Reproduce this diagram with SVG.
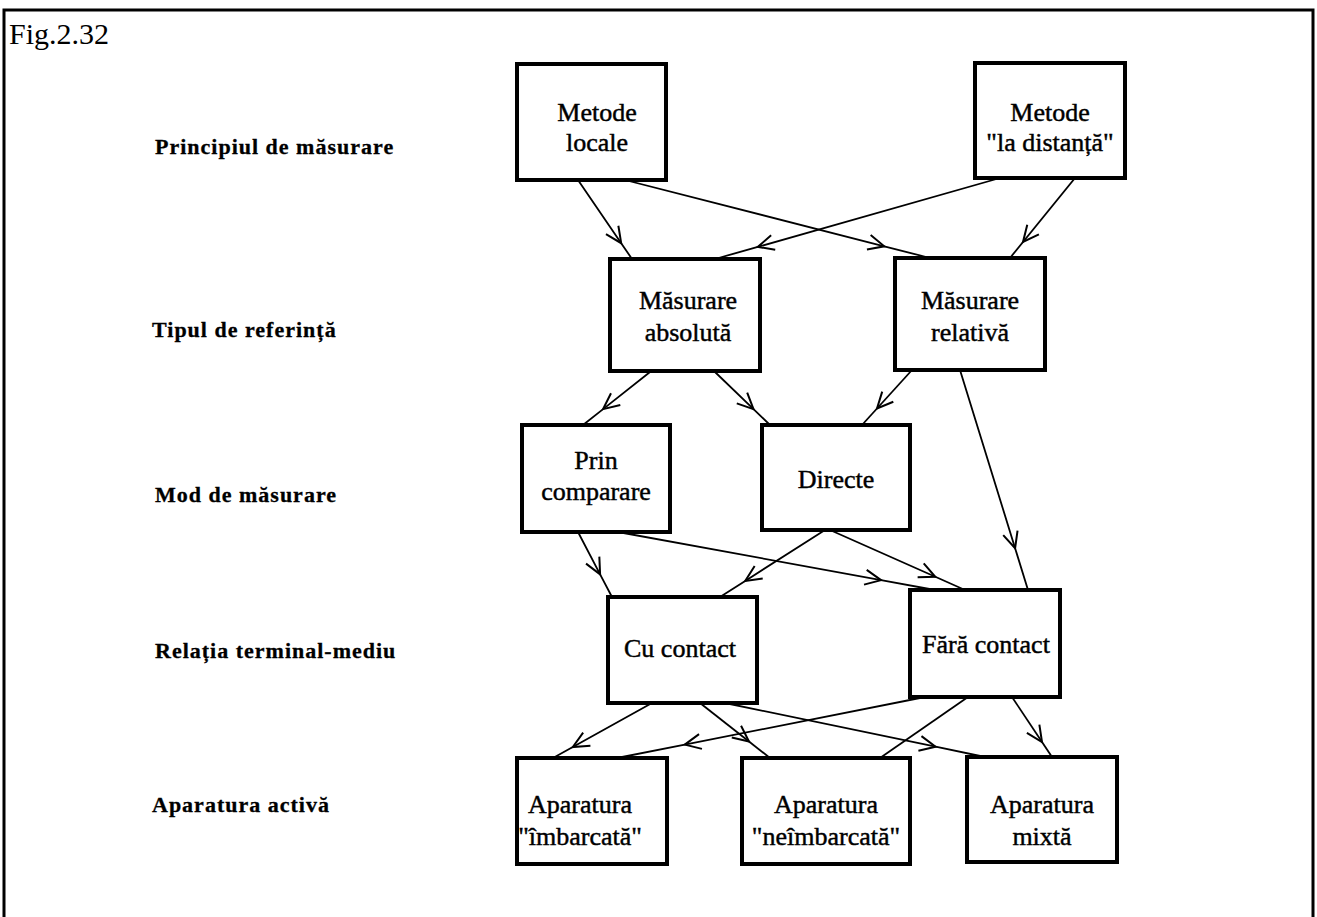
<svg xmlns="http://www.w3.org/2000/svg" width="1317" height="917" viewBox="0 0 1317 917">
  <style>
    .frame { fill: none; stroke: #000; stroke-width: 3; }
    .box { fill: #fff; stroke: #000; stroke-width: 4; }
    .node-text { font-family: "Liberation Serif", "Times New Roman", serif; font-size: 26px; fill: #000; stroke: #000; stroke-width: 0.45; text-anchor: middle; }
    .level { font-family: "Liberation Serif", "Times New Roman", serif; font-size: 22px; font-weight: bold; letter-spacing: 1px; fill: #000; stroke: #000; stroke-width: 0.3; }
    .fig { font-family: "Liberation Serif", "Times New Roman", serif; font-size: 30px; fill: #000; }
    .conn { fill: none; stroke: #000; stroke-width: 1.8; marker-mid: url(#arrow); }
    .plain { fill: none; stroke: #000; stroke-width: 1.8; }
  </style>
  <defs>
    <marker id="arrow" viewBox="-18 -10 22 20" markerWidth="22" markerHeight="20" refX="0" refY="0" orient="auto" markerUnits="userSpaceOnUse">
      <path d="M -16,-7.5 L 0,0 L -16,7.5" fill="none" stroke="#000" stroke-width="2"/>
    </marker>
  </defs>

  <rect x="0" y="0" width="1317" height="917" fill="#fff"/>

  <!-- page frame (open at the bottom) -->
  <path class="frame" d="M 4,917 V 10 H 1313 V 917"/>
  <text class="fig" x="9" y="44">Fig.2.32</text>

  <!-- level labels -->
  <g id="levels">
    <text class="level" x="155" y="154">Principiul de măsurare</text>
    <text class="level" x="152" y="337">Tipul de referință</text>
    <text class="level" x="155" y="502">Mod de măsurare</text>
    <text class="level" x="155" y="658">Relația terminal-mediu</text>
    <text class="level" x="152" y="812">Aparatura activă</text>
  </g>

  <!-- connectors: each arrowhead sits at the middle vertex -->
  <g id="connectors">
    <path class="conn" d="M 578,180 L 621.2,243.2 L 632,259"/>
    <path class="conn" d="M 625,180 L 884.3,246.3 L 930,258"/>
    <path class="conn" d="M 1000,178 L 757.8,246.9 L 715,259"/>
    <path class="conn" d="M 1075,178 L 1023,242 L 1010,258"/>
    <path class="conn" d="M 650,372 L 603.1,409.1 L 583,425"/>
    <path class="conn" d="M 715,372 L 753.5,409.1 L 770,425"/>
    <path class="conn" d="M 912,370 L 877,408.5 L 862,425"/>
    <path class="conn" d="M 960,370 L 1015.1,548.2 L 1028,590"/>
    <path class="conn" d="M 578,532 L 600.1,574.3 L 612,597"/>
    <path class="conn" d="M 618,532 L 881.1,580.1 L 935,590"/>
    <path class="conn" d="M 825,530 L 745.2,580.9 L 720,597"/>
    <path class="conn" d="M 830,530 L 935.3,576.8 L 965,590"/>
    <path class="conn" d="M 652,703 L 572.8,747 L 553,758"/>
    <path class="conn" d="M 700,703 L 749,741.5 L 770,758"/>
    <path class="conn" d="M 725,703 L 935.6,746.7 L 985,757"/>
    <path class="conn" d="M 925,697 L 684.8,744.6 L 617,758"/>
    <path class="plain" d="M 968,697 L 880,758"/>
    <path class="conn" d="M 1012,697 L 1042,742 L 1052,757"/>
  </g>

  <!-- level 1 -->
  <g id="metode-locale">
    <rect class="box" x="517" y="64" width="149" height="116"/>
    <text class="node-text" x="597" y="121">Metode</text>
    <text class="node-text" x="597" y="151">locale</text>
  </g>
  <g id="metode-la-distanta">
    <rect class="box" x="975" y="63" width="150" height="115"/>
    <text class="node-text" x="1050" y="121">Metode</text>
    <text class="node-text" x="1050" y="151">"la distanță"</text>
  </g>

  <!-- level 2 -->
  <g id="masurare-absoluta">
    <rect class="box" x="610" y="259" width="150" height="112"/>
    <text class="node-text" x="688" y="309">Măsurare</text>
    <text class="node-text" x="688" y="341">absolută</text>
  </g>
  <g id="masurare-relativa">
    <rect class="box" x="895" y="258" width="150" height="112"/>
    <text class="node-text" x="970" y="309">Măsurare</text>
    <text class="node-text" x="970" y="341">relativă</text>
  </g>

  <!-- level 3 -->
  <g id="prin-comparare">
    <rect class="box" x="522" y="425" width="148" height="107"/>
    <text class="node-text" x="596" y="469">Prin</text>
    <text class="node-text" x="596" y="500">comparare</text>
  </g>
  <g id="directe">
    <rect class="box" x="762" y="425" width="148" height="105"/>
    <text class="node-text" x="836" y="488">Directe</text>
  </g>

  <!-- level 4 -->
  <g id="cu-contact">
    <rect class="box" x="608" y="597" width="149" height="106"/>
    <text class="node-text" x="680" y="657">Cu contact</text>
  </g>
  <g id="fara-contact">
    <rect class="box" x="910" y="590" width="150" height="107"/>
    <text class="node-text" x="986" y="653">Fără contact</text>
  </g>

  <!-- level 5 -->
  <g id="aparatura-imbarcata">
    <rect class="box" x="517" y="758" width="150" height="106"/>
    <text class="node-text" x="580" y="813">Aparatura</text>
    <text class="node-text" x="580" y="845">"îmbarcată"</text>
  </g>
  <g id="aparatura-neimbarcata">
    <rect class="box" x="742" y="758" width="168" height="106"/>
    <text class="node-text" x="826" y="813">Aparatura</text>
    <text class="node-text" x="826" y="845">"neîmbarcată"</text>
  </g>
  <g id="aparatura-mixta">
    <rect class="box" x="967" y="757" width="150" height="105"/>
    <text class="node-text" x="1042" y="813">Aparatura</text>
    <text class="node-text" x="1042" y="845">mixtă</text>
  </g>
</svg>
